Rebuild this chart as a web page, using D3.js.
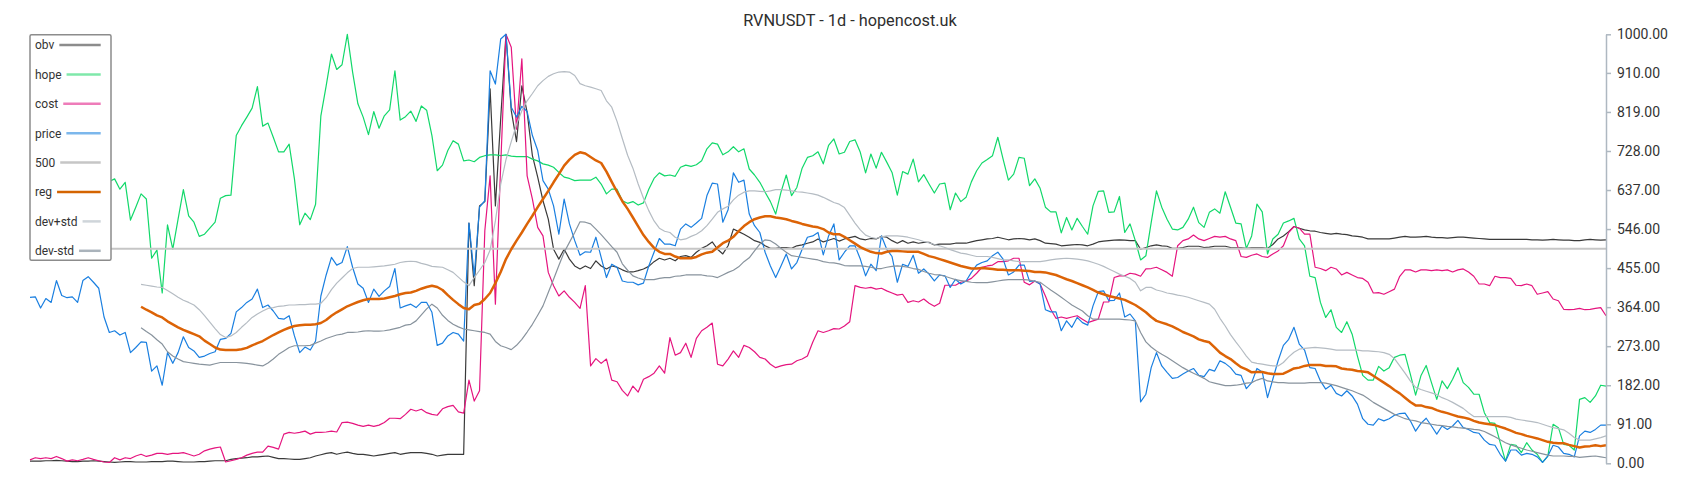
<!DOCTYPE html>
<html>
<head>
<meta charset="utf-8">
<script src="https://cdn.jsdelivr.net/npm/d3@7"></script>
<style>
  body { margin: 0; background: #ffffff; }
  svg { display: block; font-family: Roboto, "Noto Sans", "DejaVu Sans", sans-serif; }
</style>
</head>
<body>
<svg id="chart" width="1700" height="500"></svg>
<script>
// ---------------- DATA ----------------
const title = "RVNUSDT - 1d - hopencost.uk";
const tickValues = [0, 91, 182, 273, 364, 455, 546, 637, 728, 819, 910, 1000];
const seriesNames = ["obv", "hope", "cost", "price", "500", "reg", "dev+std", "dev-std"];
const levelLine = 500;
const _ = null;

const price = [
  387,388,362,384,375,426,391,386,388,375,
  426,435,422,408,341,305,309,299,305,258,
  270,283,282,215,227,182,258,233,258,295,
  270,262,247,250,256,260,289,291,303,353,
  363,375,383,406,363,369,355,338,336,344,
  297,258,271,264,285,390,439,480,462,468,
  505,457,418,408,375,406,389,402,412,454,
  362,367,371,363,375,375,352,275,280,297,
  305,301,285,560,437,597,612,915,884,989,
  1000,830,807,832,820,764,729,659,639,600,
  534,616,558,519,485,493,492,527,480,433,
  464,457,425,422,422,416,420,460,492,524,
  511,511,507,546,558,550,560,571,624,653,
  651,562,591,677,655,660,581,554,538,492,
  460,433,460,488,453,468,499,527,530,538,
  486,530,558,474,492,507,507,476,437,464,
  449,530,499,482,422,464,459,485,443,453,
  441,425,439,437,410,429,418,425,445,462,
  468,472,484,492,476,439,446,462,462,424,
  425,418,358,353,353,309,332,317,340,328,
  322,367,400,402,379,380,397,341,348,332,
  143,161,223,258,227,212,198,200,208,215,
  221,205,202,219,215,239,233,223,208,205,
  174,188,221,213,153,196,239,275,289,317,
  278,264,223,221,192,173,182,163,157,169,
  157,138,104,91,89,104,99,104,112,116,
  117,99,75,93,105,87,68,87,79,87,
  100,83,79,72,70,54,44,42,21,5,
  31,31,19,23,21,15,2,17,42,38,
  23,21,15,64,75,72,79,89,89
];

const hope = [
  _,_,_,_,_,_,_,_,_,_,
  _,_,_,_,_,657,663,639,655,567,
  597,628,616,478,497,397,556,499,569,638,
  577,562,529,534,548,562,618,624,625,764,
  787,807,828,878,786,793,760,726,726,744,
  663,556,583,568,604,810,880,954,918,929,
  1000,912,838,807,766,820,781,810,824,915,
  800,808,821,797,833,823,764,682,695,729,
  752,744,705,707,703,713,717,719,719,717,
  719,716,715,715,715,709,705,698,695,690,
  678,667,664,659,660,660,660,667,651,628,
  639,639,612,606,610,602,607,639,664,677,
  670,672,669,690,695,692,696,705,733,747,
  744,719,726,738,726,733,686,672,655,632,
  610,581,632,672,624,643,688,713,717,726,
  698,741,756,721,725,750,754,725,677,721,
  688,725,702,678,625,680,674,709,656,673,
  651,630,651,653,591,630,610,620,656,682,
  700,708,717,760,709,660,674,713,711,647,
  663,641,597,586,586,537,573,544,571,552,
  534,600,634,635,585,586,622,538,558,519,
  474,484,561,635,597,569,546,544,550,569,
  597,561,550,585,593,583,633,597,560,558,
  501,530,604,586,488,523,534,560,565,571,
  523,507,436,433,375,340,358,317,305,330,
  301,250,205,194,194,226,215,223,247,252,
  254,208,159,204,228,188,149,192,174,196,
  223,188,177,161,161,118,95,93,48,5,
  44,42,25,48,31,21,2,17,91,83,
  44,42,31,149,153,142,157,182,180
];

const cost = [
  8,13,11,13,11,16,11,5,8,6,
  9,13,9,6,3,2,13,8,13,11,
  17,21,16,19,23,23,21,23,23,25,
  21,17,21,29,33,36,38,3,6,9,
  13,19,23,26,26,40,37,33,68,72,
  70,72,75,68,72,72,73,75,73,95,
  96,93,89,86,89,86,89,95,105,105,
  104,114,126,122,126,118,114,112,127,132,
  135,120,117,194,145,169,542,670,371,694,
  1000,970,779,943,670,616,550,530,445,414,
  390,402,387,375,361,414,227,244,233,243,
  194,190,170,157,180,166,196,202,210,227,
  210,293,252,258,280,247,291,309,317,327,
  231,227,243,262,247,275,270,260,247,243,
  231,223,227,230,231,239,243,250,282,309,
  305,309,314,313,320,330,414,410,408,410,
  406,408,402,397,392,394,375,379,376,383,
  373,366,373,415,415,415,422,425,431,443,
  457,460,462,470,470,472,478,478,422,416,
  425,418,390,359,338,341,338,341,344,336,
  328,332,336,376,376,433,437,437,443,441,
  436,453,454,457,451,445,436,507,519,523,
  532,523,519,524,529,527,529,523,519,482,
  480,485,488,482,480,488,495,507,538,552,
  548,534,534,457,454,449,457,453,439,445,
  439,433,431,422,397,398,394,400,406,436,
  451,451,446,451,451,449,451,449,451,446,
  451,453,446,436,418,418,414,436,433,433,
  431,415,414,418,414,394,397,400,383,379,
  359,358,359,361,358,359,361,363,344
];

const obv = [
  5,5,5,6,6,7,6,5,4,4,
  5,5,6,5,4,3,2,3,4,4,
  3,3,3,4,4,4,5,5,4,3,
  3,3,4,4,5,6,6,6,9,11,
  12,13,15,15,16,17,14,11,11,10,
  9,9,11,13,17,20,23,25,21,24,
  26,23,21,21,19,17,19,21,23,25,
  21,23,25,25,25,23,21,17,19,21,
  21,21,21,560,414,600,610,873,600,803,
  1000,822,750,880,818,717,667,612,569,499,
  476,499,476,460,453,460,454,472,460,453,
  460,457,451,446,446,449,453,459,470,478,
  474,478,472,482,484,480,492,501,507,516,
  499,488,507,546,540,534,527,519,515,507,
  501,501,503,503,501,507,509,513,516,523,
  516,520,524,518,523,526,529,523,521,524,
  523,529,527,519,513,519,513,516,513,515,
  515,509,511,511,511,513,513,513,516,519,
  521,523,524,527,524,521,523,524,523,521,
  523,519,513,512,511,507,508,509,510,509,
  507,511,516,518,519,520,521,520,519,519,
  499,503,507,509,507,506,501,501,503,506,
  506,506,503,504,506,506,506,503,502,502,
  501,502,502,502,501,510,523,530,540,552,
  548,544,542,541,538,536,534,536,534,533,
  530,529,527,523,523,523,523,523,525,527,
  529,527,527,528,529,527,526,526,525,526,
  527,527,526,525,524,523,522,522,522,522,
  522,522,522,522,521,521,520,521,522,521,
  520,520,519,519,521,522,521,520,521
];

const reg = [
  _,_,_,_,_,_,_,_,_,_,
  _,_,_,_,_,_,_,_,_,_,
  _,365,358,352,345,340,331,324,317,311,
  306,301,296,286,278,270,265,264,264,264,
  266,269,275,280,285,292,299,305,311,316,
  320,322,323,323,324,327,334,344,352,359,
  366,371,376,380,383,383,383,384,387,390,
  394,397,398,402,407,411,414,411,404,392,
  381,371,362,359,369,372,383,397,420,446,
  476,499,519,538,558,577,597,616,635,655,
  674,694,708,719,725,722,714,706,700,680,
  656,633,611,593,573,552,532,516,502,493,
  488,488,482,478,478,478,481,487,491,493,
  503,513,519,528,541,553,562,569,573,576,
  576,573,571,569,565,562,558,555,552,550,
  546,538,534,534,528,520,512,504,498,493,
  490,489,493,495,495,494,493,493,493,488,
  483,480,476,472,468,464,460,457,454,454,
  455,454,453,451,451,450,450,450,449,448,
  446,446,445,442,439,434,429,425,420,415,
  410,404,398,394,390,387,384,381,375,369,
  361,352,341,332,328,324,319,313,306,301,
  296,289,285,282,270,258,250,243,233,224,
  219,212,213,213,210,208,208,209,215,221,
  223,227,229,229,229,227,227,226,221,219,
  218,215,214,212,204,196,188,180,171,163,
  153,143,135,135,131,129,124,120,117,113,
  109,107,104,99,95,93,91,89,85,81,
  76,71,68,64,61,58,54,50,48,47,
  47,43,40,37,39,40,42,40,42
];

const devPlus = [
  _,_,_,_,_,_,_,_,_,_,
  _,_,_,_,_,_,_,_,_,_,
  _,417,415,413,411,410,403,395,387,380,
  375,369,358,344,329,314,300,293,297,305,
  317,328,340,348,355,361,363,366,367,369,
  369,370,370,371,371,373,386,405,420,432,
  444,454,457,457,457,458,459,460,462,464,
  468,470,471,470,466,463,459,458,457,451,
  445,434,423,414,433,450,468,497,565,650,
  708,750,790,822,845,862,880,892,902,908,
  912,913,912,904,885,880,877,873,869,845,
  830,797,757,718,688,651,618,589,565,548,
  541,538,527,521,523,529,534,542,554,569,
  585,593,599,614,625,632,635,635,634,633,
  635,638,638,637,635,633,632,630,628,625,
  620,614,608,604,596,578,560,544,532,527,
  524,528,530,530,530,529,527,524,521,517,
  514,510,507,503,498,494,490,488,485,482,
  482,482,480,477,474,474,472,470,470,470,
  470,470,472,474,476,477,478,477,476,474,
  472,468,464,459,453,447,441,436,431,422,
  402,410,410,404,401,397,395,392,390,387,
  383,379,375,371,359,338,320,300,283,267,
  250,236,233,231,229,227,227,235,248,259,
  266,268,269,270,269,268,266,264,264,264,
  264,264,262,262,261,260,258,254,244,227,
  210,192,177,172,168,164,160,153,148,142,
  135,128,118,109,109,109,109,109,109,109,
  107,103,101,99,97,95,91,87,83,81,
  78,70,60,54,54,54,57,60,64
];

const devMinus = [
  _,_,_,_,_,_,_,_,_,_,
  _,_,_,_,_,_,_,_,_,_,
  _,316,307,299,288,278,260,250,243,237,
  235,233,231,230,229,232,235,235,235,235,
  234,233,231,229,227,234,243,254,262,270,
  274,274,274,275,280,285,291,295,299,301,
  305,305,306,308,309,308,308,309,311,314,
  317,322,324,332,346,360,371,362,345,333,
  324,318,313,311,309,307,305,301,284,274,
  270,265,275,289,306,324,345,367,398,429,
  461,492,515,538,563,562,558,546,533,519,
  505,492,465,450,437,432,428,428,428,431,
  433,433,436,437,439,439,439,439,437,436,
  433,439,445,450,458,470,479,495,511,521,
  519,511,501,492,484,482,480,478,476,474,
  470,468,467,465,461,460,460,460,459,457,
  454,454,457,459,460,459,457,454,452,447,
  443,440,439,436,432,428,426,424,422,421,
  421,421,423,425,427,428,428,428,428,427,
  424,422,413,404,396,387,378,369,362,355,
  344,336,336,336,336,336,336,335,334,332,
  305,283,271,262,254,247,239,231,223,216,
  210,204,198,190,187,184,181,181,182,184,
  187,188,194,198,192,190,188,188,187,187,
  187,187,188,188,188,187,184,181,177,173,
  169,164,159,151,142,135,128,121,114,109,
  104,101,99,95,93,91,89,88,86,85,
  83,82,81,79,78,74,68,62,55,48,
  43,39,35,31,28,25,22,19,17,17,
  17,16,16,14,15,16,17,15,13
];

// ---------------- CHART ----------------
const N = price.length;
[hope, cost, obv, reg, devPlus, devMinus].forEach((a, k) => {
  if (a.length !== N) throw new Error("length mismatch in series " + k + ": " + a.length + " vs " + N);
});

const svg = d3.select("#chart");
const W = 1700, H = 500;
const plot = { left: 30, right: 1606, top: 34.3, bottom: 463.3 };

const x = d3.scaleLinear().domain([0, N - 1]).range([plot.left, plot.right]);
const y = d3.scaleLinear().domain([0, 1000]).range([plot.bottom, plot.top]);

svg.append("rect").attr("width", W).attr("height", H).attr("fill", "#ffffff");

// title
svg.append("text")
  .attr("x", 850).attr("y", 25.8)
  .attr("text-anchor", "middle")
  .attr("font-size", 16.3)
  .attr("font-weight", 400)
  .attr("fill", "#2e2e2e")
  .text(title);

const styles = {
  "obv":     { data: obv,      color: "#3a3a3a", width: 1.2, legend: "#8c8c8c" },
  "hope":    { data: hope,     color: "#12d86a", width: 1.2, legend: "#7fe8aa" },
  "cost":    { data: cost,     color: "#e5157f", width: 1.2, legend: "#ee7cb9" },
  "price":   { data: price,    color: "#1a7fe0", width: 1.2, legend: "#7cb7ec" },
  "500":     { data: null,     color: "#c6c6c6", width: 2,   legend: "#c6c6c6" },
  "reg":     { data: reg,      color: "#dc6306", width: 2.5, legend: "#d46400" },
  "dev+std": { data: devPlus,  color: "#b5bcc3", width: 1.2, legend: "#cfd5da" },
  "dev-std": { data: devMinus, color: "#88939d", width: 1.2, legend: "#aab3bb" }
};

const line = d3.line()
  .defined(d => d.v !== null)
  .x(d => x(d.i))
  .y(d => y(d.v));

const g = svg.append("g");
seriesNames.forEach(name => {
  const s = styles[name];
  if (name === "500") {
    g.append("line")
      .attr("x1", x(0)).attr("x2", x(N - 1))
      .attr("y1", y(levelLine)).attr("y2", y(levelLine))
      .attr("stroke", s.color).attr("stroke-width", s.width);
    return;
  }
  const pts = s.data.map((v, i) => ({ i, v }));
  g.append("path")
    .attr("d", line(pts))
    .attr("fill", "none")
    .attr("stroke", s.color)
    .attr("stroke-width", s.width)
    .attr("stroke-linejoin", "round");
});

// right axis
const axis = d3.axisRight(y)
  .tickValues(tickValues)
  .tickFormat(d3.format(".2f"))
  .tickSize(5)
  .tickSizeOuter(0)
  .tickPadding(6);
const ax = svg.append("g")
  .attr("transform", `translate(${plot.right},0)`)
  .call(axis);
ax.select(".domain").attr("stroke", "#aeb8c1").attr("stroke-width", 1.5);
ax.selectAll(".tick line").attr("stroke", "#aeb8c1").attr("stroke-width", 1.5);
ax.selectAll(".tick text")
  .attr("fill", "#333333")
  .attr("font-size", 14)
  .attr("font-family", "Roboto, 'Noto Sans', sans-serif");

// legend
const leg = svg.append("g");
const legBox = { x: 30, y: 34.7, w: 81, h: 225.5 };
leg.append("rect")
  .attr("x", legBox.x).attr("y", legBox.y)
  .attr("width", legBox.w).attr("height", legBox.h)
  .attr("rx", 1.5)
  .attr("fill", "#ffffff")
  .attr("stroke", "#8c8c8c")
  .attr("stroke-width", 1.5);
seriesNames.forEach((name, k) => {
  const cy = 45 + k * 29.4;
  const t = leg.append("text")
    .attr("x", 35).attr("y", cy + 4.3)
    .attr("font-size", 12)
    .attr("fill", "#333333")
    .text(name);
  const tw = t.node().getComputedTextLength();
  leg.append("line")
    .attr("x1", 35 + tw + 5).attr("x2", 100.7)
    .attr("y1", cy).attr("y2", cy)
    .attr("stroke", styles[name].legend)
    .attr("stroke-width", 2.5);
});
</script>
</body>
</html>
